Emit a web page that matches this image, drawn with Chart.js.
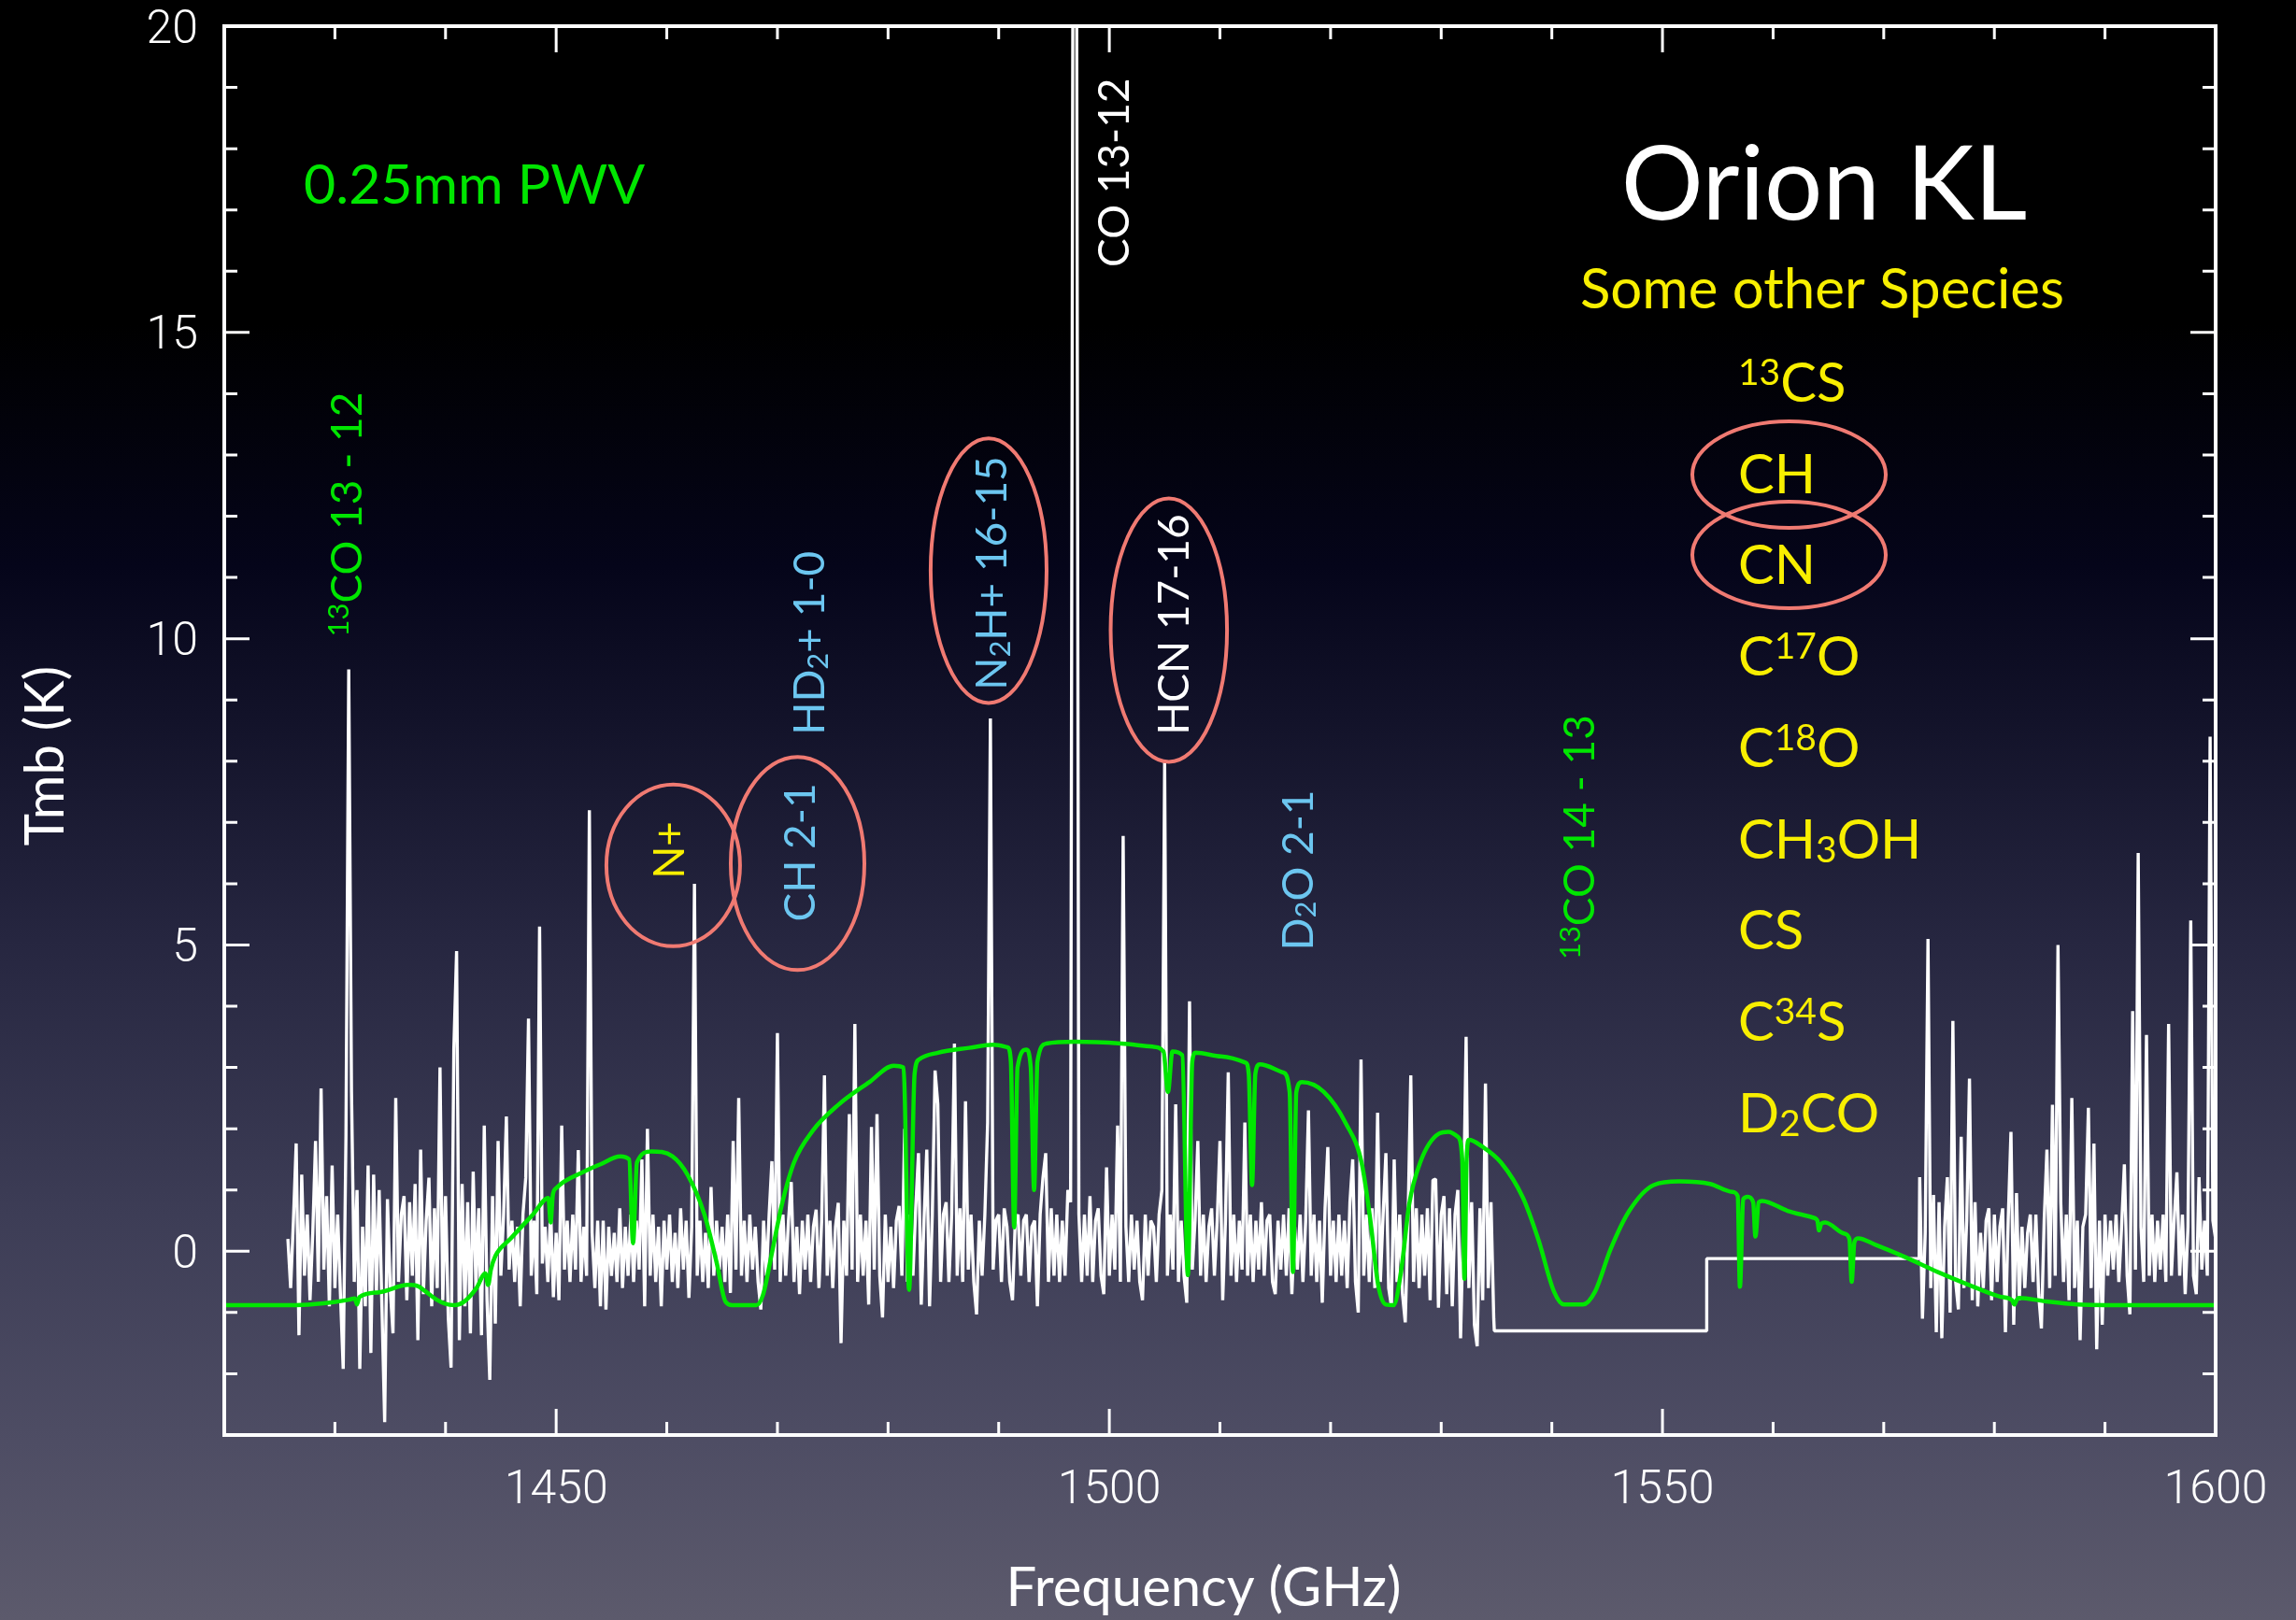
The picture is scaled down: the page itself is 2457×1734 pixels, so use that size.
<!DOCTYPE html>
<html>
<head>
<meta charset="utf-8">
<title>Orion KL 1420-1600 GHz</title>
<script src="https://cdn.jsdelivr.net/npm/chart.js@4.4.1/dist/chart.umd.min.js"></script>
<style>
  html, body { margin: 0; padding: 0; background: #000; }
  #spec { display: block; }
</style>
</head>
<body>
<canvas id="spec" width="2457" height="1734"></canvas>
<script>
// spectrum channels, 0.25 GHz apart
const chanStart = 1425.75;
const chanStep = 0.25;
const tmbLow = [
  0.2,-0.6,0.5,1.76,-1.37,1.25,-0.4,0.6,-0.8,0.3,1.8,-0.5,2.66,-0.3,0.9,-0.9,1.4,-0.6,0.6,-0.7,
  -1.92,1.9,9.5,2.6,-0.5,1.0,-1.92,0.4,-0.9,1.4,-1.66,1.25,-0.7,1.0,-0.9,-2.79,0.85,-0.6,-1.34,2.5,
  -0.5,0.6,0.9,-0.8,0.8,-0.4,1.1,-1.45,1.66,-0.7,0.5,1.2,-0.9,0.7,-0.6,3.0,-0.8,0.9,-1.1,-1.9,
  3.3,4.9,-1.45,1.1,-0.9,0.8,-1.34,1.3,-0.6,0.7,-1.37,2.05,-0.8,-2.1,0.9,-1.18,1.8,-0.4,0.6,2.2,
  -0.3,0.5,-0.5,0.4,-0.9,0.6,1.2,3.8,-0.4,0.5,-0.7,5.3,-0.2,0.4,-0.5,0.7,-0.75,0.3,-0.8,2.05,
  -0.3,0.5,-0.5,0.6,-0.3,1.65,-0.5,0.4,-0.4,7.2,0.3,-0.6,0.5,-0.9,0.5,-0.95,0.4,-0.4,0.3,-0.5,
  0.7,-0.6,0.4,-0.4,0.6,-0.5,0.5,-0.3,1.5,-0.9,2.0,-0.4,0.6,-0.5,0.4,-0.9,0.5,-0.3,0.6,-0.5,
  0.3,-0.6,0.7,-0.3,0.5,-0.76,0.4,6.0,-0.4,0.5,-0.5,0.3,-0.6,1.05,-0.4,0.5,-0.3,0.4,-0.5,0.6,
  -0.68,1.8,-0.3,2.5,-0.4,0.5,-0.5,0.6,-0.3,0.4,-0.5,-0.95,0.5,-0.4,0.6,1.47,-0.3,3.56,-0.5,0.6,
  -0.4,0.5,1.13,-0.5,0.4,-0.7,0.5,-0.3,0.6,-0.5,0.4,0.68,-0.6,0.5,2.87,-0.4,0.5,-0.6,0.4,0.79,
  -1.5,0.5,-0.4,2.24,-0.3,3.71,-0.5,0.6,-0.4,0.5,-0.87,2.03,-0.3,2.24,-0.4,-1.08,0.6,-0.5,0.4,-0.6,
  0.5,0.74,-0.4,2.0,-0.5,0.6,-0.4,0.7,1.6,-0.87,0.5,1.66,-0.9,0.6,2.95,2.4,-0.5,0.6,0.8,-0.5,
  0.6,3.39,-0.4,0.7,-0.5,2.45,-0.3,0.6,-0.5,-1.03,0.5,-0.4,0.6,2.1,8.7,-0.3,0.5,0.6,-0.5,0.7,
  0.4,-0.5,-0.8,0.5,0.6,-0.4,0.5,0.6,-0.5,0.4,0.5,-0.9,0.6,1.2,1.6,-0.5,0.7,-0.4,0.6,-0.5,
  0.5,-0.4,1.0,0.8,25,25,0.6,-0.5,0.6,-0.4,0.9,-0.5,0.5,0.7,-0.4,-0.7,1.37,-0.4,0.6,-0.3,
  2.05,-0.5,6.78,0.4,-0.5,0.6,-0.3,0.5,-0.5,-0.8,0.6,-0.4,0.5,0.4,-0.5,0.6,1.0,7.98,-0.4,0.6,
  -0.3,2.4,-0.5,0.5,-0.4,-0.84,4.08,-0.3,0.5,1.8,-0.4,0.6,-0.5,0.4,0.7,-0.4,0.5,1.8,-0.8,0.5,
  2.92,-0.4,0.6,-0.5,0.5,-0.3,2.1,-0.4,0.6,-0.5,0.5,-0.3,0.8,-0.4,0.5,0.6,-0.5,-0.7,0.5,-0.3,
  0.6,-0.4,0.7,-0.7,0.4,-0.3,0.6,-0.5,0.5,2.3,-0.4,0.6,-0.5,0.5,-0.84,0.7,1.7,-0.4,0.5,-0.5,
  0.6,-0.4,0.5,-0.6,0.8,1.5,-0.5,-1.0,3.13,-0.4,0.6,-0.5,0.7,-0.6,2.26,-0.5,0.6,1.6,-0.6,-0.9,
  1.5,-0.5,0.6,-0.7,-1.16,0.5,2.87,-0.5,0.7,-0.6,0.6,-0.4,0.7,-0.8,1.16,1.18,-0.92,0.6,0.9,-0.7,
  0.7,-0.9,0.6,1.0,-1.42,0.5,3.5,-0.6,0.8,-1.2,-1.55,0.7,-0.8,2.74,-0.6,0.8,-1.1
];
// blanked part of the band
const blankFreq = [1534.8, 1554.0, 1554.0, 1573.2];
const blankTmb = [-1.3, -1.3, -0.12, -0.12];
const chanStartHigh = 1573.25;
const tmbHigh = [
  1.21,-1.1,0.3,5.1,-0.6,0.92,-1.32,0.8,-1.42,0.4,1.21,-1.0,3.76,-0.5,-0.95,1.87,-0.6,0.5,2.82,-0.8,
  0.8,-0.9,0.3,-0.6,0.5,0.7,-0.8,0.6,-0.5,0.4,0.7,-1.32,0.5,1.95,-1.2,0.95,-0.8,0.4,-0.6,0.3,
  0.6,-0.5,0.6,-0.7,-1.26,0.5,1.66,-0.6,2.39,-0.4,5.0,0.8,-0.5,0.6,-0.8,2.5,-0.6,0.5,-1.45,0.4,
  0.6,2.34,-0.6,1.76,-1.6,0.5,-1.2,0.6,-0.4,0.5,-0.3,0.6,-0.5,0.4,1.42,-0.4,-1.03,3.92,-0.3,6.5,
  0.4,-0.5,3.53,-0.4,0.6,-0.5,0.5,-0.3,0.6,-0.5,3.71,-0.4,0.5,1.29,-0.4,0.6,-0.7,0.4,5.4,-0.4,
  -0.7,1.21,-0.3,0.5,-0.4,8.4,0.5,0.2
];

// atmospheric model, 0.25mm PWV
const atmFreq = [
  1420, 1426.5, 1429, 1431.3, 1431.8, 1432.0, 1432.2, 1434, 1436.6, 1437.5,
  1438, 1439.2, 1440, 1440.8, 1441.7, 1442.8, 1443.6, 1443.85, 1444.1, 1444.5,
  1445.9, 1447.9, 1449.3, 1449.5, 1449.7, 1450, 1452.4, 1454, 1455.8, 1456.6,
  1456.95, 1457.3, 1458.6, 1460.5, 1461.9, 1463.4, 1464.5, 1465.3, 1465.9, 1468.1,
  1468.7, 1469.5, 1470.4, 1471.5, 1473.2, 1475.5, 1478.3, 1480.5, 1481.4, 1481.9,
  1482.4, 1482.8, 1484.5, 1487.3, 1489.5, 1490.8, 1491.1, 1491.4, 1491.7, 1492.5,
  1492.9, 1493.2, 1493.5, 1494.3, 1496.9, 1501.1, 1503.9, 1504.9, 1505.3, 1505.7,
  1506.6, 1507.1, 1507.5, 1507.8, 1510.1, 1512.3, 1512.6, 1512.9, 1513.2, 1513.6,
  1515.7, 1516.3, 1516.6, 1516.9, 1517.4, 1519.4, 1521.4, 1522.8, 1523.6, 1524.3,
  1525.0, 1525.7, 1526.4, 1527.1, 1528.1, 1529.8, 1530.65, 1531.5, 1531.9, 1532.1,
  1532.3, 1532.5, 1533.7, 1535.4, 1537.4, 1538.8, 1540.2, 1541.1, 1542.8, 1543.9,
  1545.3, 1547.0, 1549.2, 1551.5, 1554.3, 1556.3, 1556.8, 1557.0, 1557.3, 1557.7,
  1558.2, 1558.4, 1558.7, 1559.0, 1561.3, 1563.6, 1564.0, 1564.15, 1564.35, 1564.7,
  1566.4, 1566.9, 1567.1, 1567.35, 1567.7, 1569.2, 1572.0, 1574.9, 1577.7, 1580.5,
  1581.6, 1581.8, 1582.0, 1582.2, 1584.7, 1587.5, 1590, 1600
];
const atmTmb = [
  -0.88, -0.88, -0.85, -0.79, -0.77, -0.87, -0.75, -0.67, -0.55, -0.57,
  -0.63, -0.79, -0.86, -0.88, -0.82, -0.6, -0.36, -0.55, -0.3, -0.08,
  0.21, 0.6, 0.87, 0.47, 0.92, 1.03, 1.29, 1.42, 1.55, 1.5,
  0.13, 1.45, 1.63, 1.55, 1.24, 0.6, -0.18, -0.82, -0.88, -0.88,
  -0.71, -0.03, 0.76, 1.45, 1.97, 2.39, 2.76, 3.03, 3.0, -0.63,
  2.9, 3.13, 3.24, 3.32, 3.37, 3.33, 3.1, 0.39, 3.0, 3.29,
  3.0, 1.0, 3.1, 3.39, 3.42, 3.39, 3.34, 3.26, 2.6, 3.26,
  3.2, -0.39, 3.1, 3.24, 3.18, 3.08, 2.9, 1.08, 2.9, 3.05,
  2.92, 2.6, -0.34, 2.6, 2.76, 2.6, 2.08, 1.45, 0.5, -0.55,
  -0.87, -0.88, -0.29, 0.76, 1.45, 1.92, 1.95, 1.87, 1.5, -0.45,
  1.5, 1.82, 1.71, 1.45, 0.87, 0.18, -0.66, -0.87, -0.87, -0.66,
  0.03, 0.66, 1.08, 1.14, 1.1, 0.97, 0.9, -0.58, 0.85, 0.89,
  0.8, 0.24, 0.8, 0.82, 0.66, 0.55, 0.5, 0.34, 0.45, 0.47,
  0.29, 0.2, -0.5, 0.15, 0.21, 0.11, -0.1, -0.34, -0.55, -0.74,
  -0.8, -0.87, -0.8, -0.76, -0.82, -0.87, -0.88, -0.88
];

const xTicks = [1450, 1500, 1550, 1600];
const yTicks = [0, 5, 10, 15, 20];

// line identifications
const lineLabels = ['^13^CO 13 - 12', 'CO 13-12', 'N_2_H+ 16-15', 'HCN 17-16', 'HD_2_+ 1-0', 'N+', 'CH 2-1', 'D_2_O 2-1', '^13^CO 14 - 13'];
const otherSpecies = ['^13^CS', 'CH', 'CN', 'C^17^O', 'C^18^O', 'CH_3_OH', 'CS', 'C^34^S', 'D_2_CO'];

const GREEN = '#00e600';
const BLUE = '#6cc6f0';
const YELLOW = '#f8ef00';
const SALMON = '#f07a72';
const FONT = 'Lato, "Open Sans", sans-serif';

// where the annotations sit (GHz, K)
const labelAt = [[1431.05, 12.03], [1500.33, 17.61], [1489.33, 11.07], [1505.75, 10.23], [1472.85, 9.93],
                 [1460.15, 6.55], [1471.95, 6.51], [1516.97, 6.22], [1542.4, 6.76]];
const labelColor = [GREEN, '#fff', BLUE, '#fff', BLUE, YELLOW, BLUE, BLUE, GREEN];
const rings = [ // centre GHz, centre K, half width GHz, half height K
  [1460.58, 6.30, 6.04, 1.32], [1471.82, 6.33, 6.04, 1.74],
  [1489.09, 11.11, 5.24, 2.16], [1505.38, 10.14, 5.26, 2.15]
];

function specPoints() {
  const pts = [];
  tmbLow.forEach((v, i) => pts.push({ x: chanStart + i * chanStep, y: v }));
  blankFreq.forEach((f, i) => pts.push({ x: f, y: blankTmb[i] }));
  tmbHigh.forEach((v, i) => pts.push({ x: chanStartHigh + i * chanStep, y: v }));
  return pts;
}

function parseRich(s) {
  const parts = [];
  const re = /\^([^\^]*)\^|_([^_]*)_|([^\^_]+)/g;
  let m;
  while ((m = re.exec(s))) {
    if (m[1] !== undefined) parts.push({ t: m[1], k: 'sup' });
    else if (m[2] !== undefined) parts.push({ t: m[2], k: 'sub' });
    else parts.push({ t: m[3], k: '' });
  }
  return parts;
}

function drawRich(ctx, s, x, y, size, color, align) {
  const parts = parseRich(s);
  const small = Math.round(size * 0.68);
  let w = 0;
  parts.forEach(p => {
    ctx.font = (p.k ? small : size) + 'px ' + FONT;
    p.w = ctx.measureText(p.t).width;
    w += p.w;
  });
  let cx = align === 'center' ? x - w / 2 : x;
  ctx.fillStyle = color;
  ctx.textAlign = 'left';
  ctx.textBaseline = 'alphabetic';
  parts.forEach(p => {
    ctx.font = (p.k ? small : size) + 'px ' + FONT;
    const dy = p.k === 'sup' ? -size * 0.31 : p.k === 'sub' ? size * 0.08 : 0;
    ctx.fillText(p.t, cx, y + dy);
    cx += p.w;
  });
}

const background = {
  id: 'background',
  beforeDraw(chart) {
    const ctx = chart.ctx;
    const g = ctx.createLinearGradient(0, 0, 0, chart.height);
    g.addColorStop(0, '#000000');
    g.addColorStop(0.2, '#000000');
    g.addColorStop(0.35, '#05051a');
    g.addColorStop(0.58, '#262640');
    g.addColorStop(0.75, '#3d3d56');
    g.addColorStop(0.89, '#4e4d64');
    g.addColorStop(1, '#5c5a6c');
    ctx.save();
    ctx.fillStyle = g;
    ctx.fillRect(0, 0, chart.width, chart.height);
    ctx.restore();
  }
};

// box with inward ticks on all four sides
const frame = {
  id: 'frame',
  afterDraw(chart) {
    const { ctx, chartArea: a, scales: { x, y } } = chart;
    ctx.save();
    ctx.strokeStyle = '#fff';
    ctx.lineWidth = 3;
    ctx.beginPath();
    for (let f = 1430; f < 1600; f += 10) {
      const px = x.getPixelForValue(f);
      const len = f % 50 === 0 ? 28 : 14;
      ctx.moveTo(px, a.bottom); ctx.lineTo(px, a.bottom - len);
      ctx.moveTo(px, a.top); ctx.lineTo(px, a.top + len);
    }
    for (let t = -2; t < 20; t++) {
      const py = y.getPixelForValue(t);
      const len = t % 5 === 0 ? 27 : 14;
      ctx.moveTo(a.left, py); ctx.lineTo(a.left + len, py);
      ctx.moveTo(a.right, py); ctx.lineTo(a.right - len, py);
    }
    ctx.stroke();
    ctx.lineWidth = 4;
    ctx.strokeRect(a.left, a.top, a.right - a.left, a.bottom - a.top);
    ctx.restore();
  }
};

const notes = {
  id: 'notes',
  afterDatasetsDraw(chart) {
    const { ctx, scales: { x, y } } = chart;
    ctx.save();
    // rings round the lines of interest
    ctx.strokeStyle = SALMON;
    ctx.lineWidth = 4;
    rings.forEach(r => {
      const cx = x.getPixelForValue(r[0]), cy = y.getPixelForValue(r[1]);
      const rx = x.getPixelForValue(r[0] + r[2]) - cx;
      const ry = cy - y.getPixelForValue(r[1] + r[3]);
      ctx.beginPath();
      ctx.ellipse(cx, cy, rx, ry, 0, 0, Math.PI * 2);
      ctx.stroke();
    });
    // rotated line names
    lineLabels.forEach((s, i) => {
      ctx.save();
      ctx.translate(x.getPixelForValue(labelAt[i][0]), y.getPixelForValue(labelAt[i][1]));
      ctx.rotate(-Math.PI / 2);
      drawRich(ctx, s, 0, 16.5, 46, labelColor[i], 'center');
      ctx.restore();
    });

    drawRich(ctx, '0.25mm PWV', 325, 218, 59, GREEN, 'left');
    drawRich(ctx, 'Orion KL', 1952, 235, 110, '#fff', 'center');
    drawRich(ctx, 'Some other Species', 1950, 330, 60, YELLOW, 'center');
    otherSpecies.forEach((s, i) => drawRich(ctx, s, 1860, 430 + i * 97.7, 58, YELLOW, 'left'));
    ctx.strokeStyle = SALMON;
    ctx.lineWidth = 4;
    [508, 594].forEach(cy => {
      ctx.beginPath();
      ctx.ellipse(1914.5, cy, 103.5, 57, 0, 0, Math.PI * 2);
      ctx.stroke();
    });

    // axis titles
    drawRich(ctx, 'Frequency (GHz)', 1288, 1719, 58, '#fff', 'center');
    ctx.translate(47, 809);
    ctx.rotate(-Math.PI / 2);
    drawRich(ctx, 'Tmb (K)', 0, 21, 58, '#fff', 'center');
    ctx.restore();
  }
};

const tickFont = { family: 'Roboto, "Liberation Sans", sans-serif', weight: 300, size: 50, lineHeight: 1 };

new Chart(document.getElementById('spec'), {
  type: 'line',
  data: {
    datasets: [
      {
        label: '0.25mm PWV',
        data: atmFreq.map((f, i) => ({ x: f, y: atmTmb[i] })),
        borderColor: GREEN,
        borderWidth: 4.5,
        pointRadius: 0,
        cubicInterpolationMode: 'monotone',
        order: 0
      },
      {
        label: 'Orion KL',
        data: specPoints(),
        borderColor: '#ffffff',
        borderWidth: 3.4,
        borderJoinStyle: 'bevel',
        pointRadius: 0,
        tension: 0,
        order: 1
      }
    ]
  },
  options: {
    responsive: false,
    animation: false,
    devicePixelRatio: 1,
    layout: { padding: { left: 0, top: 28, right: 86, bottom: 0 } },
    plugins: { legend: { display: false }, tooltip: { enabled: false } },
    scales: {
      x: {
        type: 'linear',
        min: 1420,
        max: 1600,
        grid: { display: false, drawTicks: false },
        border: { display: false },
        afterBuildTicks: s => { s.ticks = xTicks.map(v => ({ value: v })); },
        afterFit: s => { s.height = 198; s.paddingLeft = 0; s.paddingRight = 0; },
        ticks: { color: '#fff', font: tickFont, padding: 35, maxRotation: 0, autoSkip: false, callback: v => String(v) }
      },
      y: {
        type: 'linear',
        min: -3,
        max: 20,
        grid: { display: false, drawTicks: false },
        border: { display: false },
        afterBuildTicks: s => { s.ticks = yTicks.map(v => ({ value: v })); },
        afterFit: s => { s.width = 240; s.paddingTop = 0; s.paddingBottom = 0; },
        ticks: { color: '#fff', font: tickFont, padding: 28, labelOffset: 5, callback: v => String(v) }
      }
    }
  },
  plugins: [background, frame, notes]
});
</script>
</body>
</html>
